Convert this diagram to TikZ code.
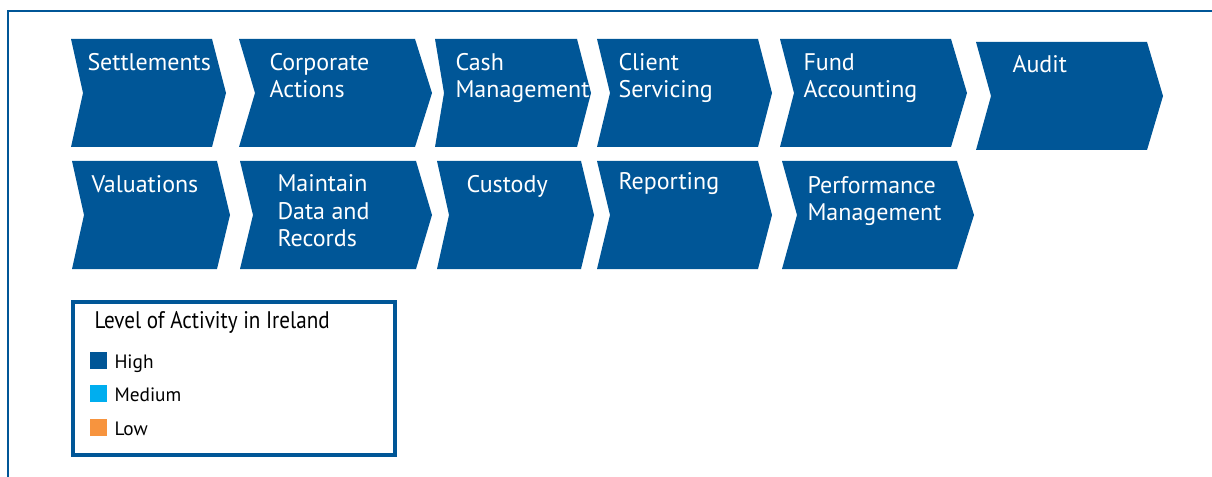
\documentclass[tikz,border=0pt]{standalone}
\usepackage{fontspec}
\setmainfont{PT Sans}
\newfontfamily\keyfont[FakeStretch=0.88]{PT Sans}
\definecolor{hiblue}{RGB}{0,86,151}
\definecolor{medblue}{RGB}{0,174,239}
\definecolor{loworange}{RGB}{247,148,62}

\tikzset{every picture/.style={line width=0.75pt}}

\begin{document}
\begin{tikzpicture}[x=0.75pt,y=0.75pt,yscale=-1,xscale=1,
	chev/.style={fill=hiblue, draw=none},
	lbl/.style={text=white, font=\fontsize{18}{20.25}\selectfont, align=left, anchor=base west, inner sep=0pt},
	keytxt/.style={text=black, font=\fontsize{14.5}{16}\selectfont, anchor=base west, inner sep=0pt}]
	\useasboundingbox (0,0) rectangle (1212,477);

	%Shape: Frame
	\draw [hiblue, line width=1.5] (8,477) -- (8,11) -- (1212,11) ;

	%Shape: Chevrons, first row
	\fill [chev] (71,39) -- (212,39) -- (226,93) -- (212,147) -- (71,147) -- (83,93) -- cycle ;
	\fill [chev] (239,39) -- (415,39) -- (432,93) -- (415,147) -- (239,147) -- (255,93) -- cycle ;
	\fill [chev] (435,39) -- (577,39) -- (591,93) -- (577,147) -- (435,147) -- (444,93) -- cycle ;
	\fill [chev] (597,39) -- (758,39) -- (772,93) -- (758,147) -- (597,147) -- (610,93) -- cycle ;
	\fill [chev] (780,39) -- (951,39) -- (967,93) -- (951,147) -- (780,147) -- (794,93) -- cycle ;
	\fill [chev] (976,42) -- (1147,42) -- (1163,96) -- (1147,150) -- (976,150) -- (991,96) -- cycle ;
	%Shape: Chevrons, second row
	\fill [chev] (72,161) -- (217,161) -- (230,215) -- (217,269) -- (72,269) -- (84,215) -- cycle ;
	\fill [chev] (240,161) -- (416,161) -- (432,215) -- (416,269) -- (240,269) -- (253,215) -- cycle ;
	\fill [chev] (437,161) -- (581,161) -- (594,215) -- (581,269) -- (437,269) -- (449,215) -- cycle ;
	\fill [chev] (597,161) -- (758,161) -- (772,215) -- (758,269) -- (597,269) -- (610,215) -- cycle ;
	\fill [chev] (782,161) -- (957,161) -- (974,215) -- (957,269) -- (782,269) -- (797,215) -- cycle ;

	% Text Node (anchored on the last line)
	\node [lbl] (settle) at (87,71) {Settlements};
	% Text Node
	\node [lbl] (corpact) at (269,98) {Corporate\\Actions};
	% Text Node
	\node [lbl] (cash) at (455,98) {Cash\\Management};
	% Text Node
	\node [lbl] (client) at (618,98) {Client\\Servicing};
	% Text Node
	\node [lbl] (fund) at (803,98) {Fund\\Accounting};
	% Text Node
	\node [lbl] (audit) at (1012,73) {Audit};
	% Text Node
	\node [lbl] (valu) at (91,193) {Valuations};
	% Text Node
	\node [lbl] (maint) at (277,246) {Maintain\\Data and\\Records};
	% Text Node
	\node [lbl] (custody) at (466,193) {Custody};
	% Text Node
	\node [lbl] (report) at (618,190) {Reporting};
	% Text Node
	\node [lbl] (perf) at (807,220) {Performance\\Management};

	%Shape: Legend box
	\draw [hiblue, line width=3] (73,302) rectangle (395,455) ;
	\fill [hiblue] (90,352) rectangle (107,369) ;
	\fill [medblue] (90,385) rectangle (107,402) ;
	\fill [loworange] (90,419) rectangle (107,436) ;

	% Text Node
	\node [keytxt, font=\keyfont\fontsize{18}{20}\selectfont] (keytitle) at (94,328) {Level of Activity in Ireland};
	% Text Node
	\node [keytxt] (keyhigh) at (114,368) {High};
	% Text Node
	\node [keytxt] (keymed) at (114,401) {Medium};
	% Text Node
	\node [keytxt] (keylow) at (114,435) {Low};

\end{tikzpicture}
\end{document}
